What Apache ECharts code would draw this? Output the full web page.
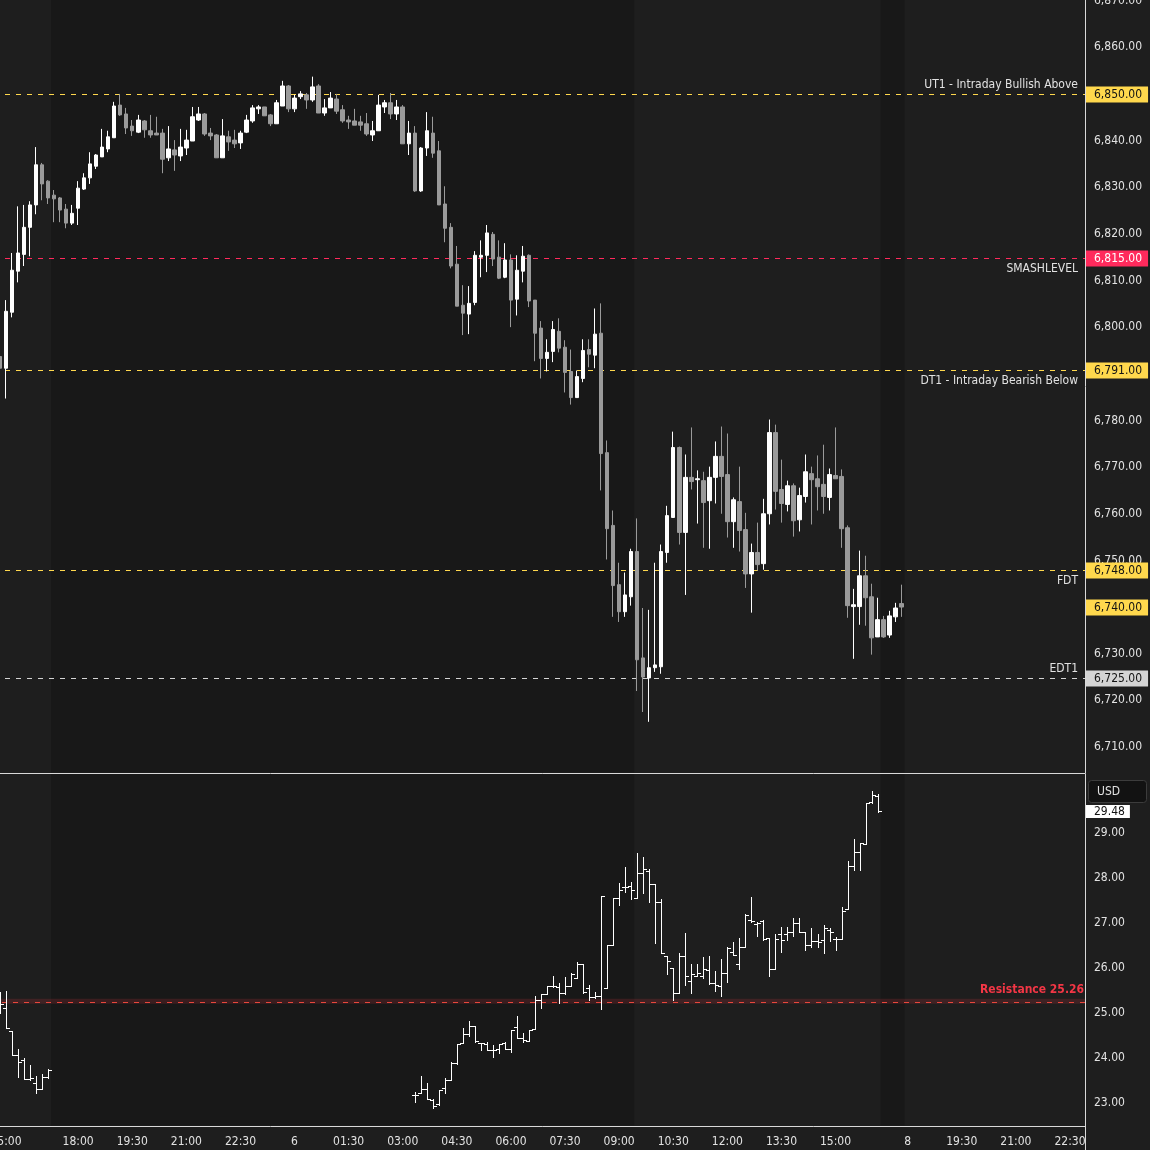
<!DOCTYPE html>
<html>
<head>
<meta charset="utf-8">
<script src="https://cdn.jsdelivr.net/npm/echarts@6/dist/echarts.min.js"></script>
<style>
html,body{margin:0;padding:0;background:#1e1e1e;}
#c{width:1150px;height:1150px;}
</style>
</head>
<body>
<div id="c"></div>
<script>
// ---------- DATA ----------
// 10-minute bar slots (session ranges, day + time)
const slotRanges = [
  [5, '14:50', '16:50'],
  [5, '18:00', '23:50'],
  [6, '00:00', '16:50'],
  [7, '18:00', '22:50']
];
// x-axis tick labels (slot index -> text)
const tickSlots = [1, 13, 22, 31, 40, 49, 58, 67, 76, 85, 94, 103, 112, 121, 130, 139, 151, 160, 169, 178];
const tickTexts = ['15:00','18:00','19:30','21:00','22:30','6','01:30','03:00','04:30','06:00','07:30','09:00','10:30','12:00','13:30','15:00','8','19:30','21:00','22:30'];

// extended-hours shading (slot ranges)
const extHoursRanges = [[9, 105], [147, 150]];

// price candles (slots 0..150)
const candleOpen = [
6793.7,6791.2,6803.2,6812.0,6815.6,6821.4,6826.2,6834.8,6831.3,6828.3,6827.7,6825.3,6822.3,6825.5,6829.6,6832.0,6834.5,6836.5,6838.2,6840.6,
6847.6,6845.7,6843.1,6841.8,6844.2,6842.1,6841.6,6841.6,6836.3,6838.0,6836.7,6838.4,6839.9,6844.4,6845.7,6841.6,6841.2,6836.3,6840.8,6840.1,
6839.5,6841.8,6844.2,6846.8,6847.2,6845.5,6843.6,6847.4,6851.7,6846.8,6849.4,6849.8,6848.7,6851.7,6845.9,6847.0,6848.9,6846.6,6844.4,6844.2,
6844.0,6843.6,6841.2,6842.1,6847.2,6848.1,6845.7,6847.2,6839.3,6841.6,6829.2,6838.4,6841.6,6837.8,6826.4,6821.4,6813.5,6804.7,6802.8,6805.3,
6815.0,6815.4,6819.9,6815.0,6810.7,6814.4,6806.0,6812.0,6815.4,6805.8,6799.8,6793.3,6794.8,6799.1,6795.7,6790.5,6784.9,6789.0,6795.2,6794.0,
6798.7,6773.1,6757.5,6744.8,6739.0,6742.2,6751.9,6729.1,6724.8,6727.0,6727.2,6751.7,6759.2,6774.2,6756.0,6767.8,6767.3,6767.1,6762.8,6767.8,
6772.3,6768.4,6758.3,6762.6,6756.6,6747.1,6751.7,6749.3,6760.0,6777.4,6765.2,6762.0,6766.0,6758.7,6763.7,6768.6,6767.5,6766.3,6763.5,6768.2,
6768.0,6757.0,6740.1,6740.1,6746.7,6742.2,6733.6,6737.3,6734.0,6737.9,6740.75];
const candleHigh = [
6798.2,6805.8,6815.9,6825.9,6826.2,6827.0,6838.6,6835.2,6831.5,6829.4,6827.9,6826.4,6826.2,6831.3,6833.0,6837.5,6837.1,6842.5,6842.1,6848.3,
6850.0,6847.0,6844.4,6845.5,6844.4,6845.5,6845.1,6842.5,6843.1,6840.1,6842.5,6842.3,6847.2,6847.2,6845.9,6842.7,6841.4,6844.6,6842.1,6842.3,
6842.1,6845.5,6847.6,6847.6,6847.2,6845.7,6848.7,6852.8,6851.9,6849.8,6850.6,6850.2,6853.7,6852.1,6848.9,6850.4,6850.0,6847.6,6845.3,6846.8,
6845.3,6845.9,6844.2,6849.8,6848.7,6850.2,6848.7,6847.6,6844.2,6843.1,6838.6,6846.1,6845.1,6839.9,6830.2,6822.3,6817.4,6809.0,6808.8,6816.3,
6818.6,6821.9,6820.4,6818.6,6818.0,6815.6,6815.4,6817.4,6815.6,6805.8,6801.3,6797.4,6801.3,6801.9,6797.2,6795.2,6790.7,6797.4,6797.4,6804.0,
6805.1,6775.7,6760.7,6749.5,6747.4,6752.5,6759.0,6739.8,6739.4,6749.5,6753.4,6761.7,6777.6,6774.4,6772.7,6778.5,6769.3,6769.0,6770.1,6775.5,
6778.7,6777.2,6763.5,6770.1,6760.2,6753.6,6758.1,6763.2,6780.2,6779.1,6771.6,6767.1,6766.5,6765.6,6772.7,6770.1,6772.5,6774.8,6769.7,6778.5,
6769.5,6757.5,6743.9,6752.1,6751.0,6745.0,6742.0,6738.1,6739.2,6740.9,6744.8];
const candleLow = [
6785.2,6784.7,6802.1,6809.6,6813.1,6815.2,6824.2,6827.2,6826.4,6822.5,6822.5,6821.2,6821.9,6821.9,6829.4,6830.7,6833.9,6836.5,6837.5,6840.6,
6845.3,6841.4,6841.0,6841.6,6840.6,6840.6,6841.2,6833.0,6835.6,6833.5,6835.6,6836.9,6839.9,6844.2,6841.0,6840.1,6836.3,6836.3,6837.8,6838.4,
6838.2,6841.6,6843.8,6845.7,6845.3,6843.1,6843.6,6847.4,6846.1,6846.1,6848.9,6846.8,6848.3,6845.9,6845.3,6847.0,6845.7,6843.8,6842.5,6843.3,
6842.1,6841.0,6839.9,6842.1,6845.9,6844.6,6844.4,6839.3,6836.9,6829.0,6829.0,6836.7,6836.3,6826.2,6818.2,6812.6,6804.5,6798.3,6798.5,6804.7,
6810.7,6811.8,6813.1,6810.3,6810.5,6800.0,6802.5,6809.6,6804.3,6792.7,6789.0,6790.5,6792.5,6794.6,6786.0,6783.4,6784.9,6788.2,6791.4,6791.2,
6765.0,6750.2,6737.9,6736.8,6737.9,6740.3,6722.0,6717.5,6715.4,6726.1,6725.7,6749.5,6759.2,6753.4,6742.6,6765.2,6757.9,6752.7,6752.5,6762.2,
6760.0,6754.9,6752.7,6751.9,6744.1,6738.8,6747.8,6748.0,6757.7,6760.9,6758.1,6760.5,6755.1,6756.2,6762.4,6757.7,6760.7,6760.0,6760.7,6767.5,
6752.7,6737.7,6728.9,6736.2,6736.0,6729.8,6733.6,6733.4,6733.4,6736.8,6737.9];
const candleClose = [
6791.2,6803.4,6812.2,6815.9,6821.4,6826.2,6834.8,6830.7,6827.7,6827.5,6825.1,6822.3,6824.4,6829.8,6832.0,6835.0,6836.9,6838.6,6840.8,6847.4,
6845.5,6842.7,6842.1,6844.4,6842.3,6841.2,6841.2,6836.0,6838.2,6836.9,6838.6,6840.1,6845.1,6845.7,6841.4,6841.0,6836.3,6841.0,6839.7,6839.3,
6841.6,6844.4,6847.0,6847.2,6845.3,6843.6,6848.1,6851.7,6846.8,6849.1,6850.0,6848.7,6851.5,6845.9,6847.0,6849.1,6846.3,6844.2,6844.0,6843.3,
6843.3,6841.4,6842.1,6847.6,6848.1,6845.7,6847.2,6839.3,6841.6,6829.2,6838.4,6842.1,6837.3,6826.2,6821.2,6813.1,6804.5,6803.0,6805.1,6815.4,
6815.4,6820.2,6814.6,6810.5,6814.4,6805.8,6812.2,6815.2,6805.6,6798.7,6793.3,6794.6,6799.5,6795.5,6790.3,6784.9,6789.4,6795.0,6794.2,6798.5,
6772.9,6756.8,6744.6,6739.0,6742.6,6751.9,6728.7,6725.0,6727.0,6727.6,6751.9,6759.6,6774.2,6756.0,6767.8,6766.9,6767.5,6762.4,6767.8,6772.3,
6768.0,6758.3,6763.0,6756.4,6747.1,6751.7,6749.1,6760.0,6777.4,6764.8,6762.2,6766.0,6758.5,6763.9,6769.0,6767.3,6765.8,6763.7,6768.4,6767.5,
6756.8,6740.3,6740.5,6746.7,6742.0,6733.4,6737.3,6733.6,6738.1,6739.8,6740.0];

// volatility index OHLC bars, two segments
const vixSegmentStarts = [0, 69];
const vixOpen = [
 [25.3,25.11,24.6,24.07,23.96,23.53,23.44,23.31,23.58],
 [23.18,23.23,23.32,23.07,22.97,23.34,23.51,23.88,24.34,24.54,24.72,24.34,24.32,24.18,24.2,24.33,24.2,24.69,24.45,24.38,
  24.65,25.3,25.43,25.61,25.58,25.45,25.61,25.77,26.1,25.56,25.36,25.37,25.56,26.51,27.55,27.8,27.83,27.55,28.1,28.16,
  27.86,27.47,26.27,25.99,25.44,26.27,25.71,25.82,25.82,25.96,25.66,25.6,25.88,26.36,26.1,26.47,27.06,26.97,27.05,26.67,
  25.97,26.75,26.75,26.8,27.0,26.8,26.51,26.6,26.62,26.84,26.64,26.64,27.32,28.27,28.58,28.75,29.69,29.82]
];
const vixHigh = [
 [25.47,25.49,24.6,24.2,24.0,23.84,23.6,23.64,23.76],
 [23.25,23.6,23.44,23.1,23.3,23.55,23.92,24.32,24.66,24.83,24.72,24.34,24.36,24.3,24.32,24.36,24.63,24.93,24.56,24.63,
  25.38,25.43,25.61,25.82,25.67,25.8,25.88,26.14,26.1,25.62,25.47,27.6,26.51,27.55,27.88,28.24,27.9,28.55,28.47,28.19,
  27.86,27.53,26.27,25.99,26.33,26.77,26.09,26.09,26.24,26.27,25.94,26.21,26.47,26.58,26.66,27.21,27.58,27.02,27.07,26.67,
  26.75,26.91,26.91,27.1,27.1,26.8,26.88,26.75,26.95,26.88,26.69,27.36,28.38,28.86,28.77,29.67,29.93,29.86]
];
const vixLow = [
 [25.0,24.67,24.07,23.58,23.53,23.51,23.22,23.31,23.56],
 [23.03,23.23,23.1,22.89,22.96,23.23,23.51,23.87,24.34,24.49,24.36,24.17,24.18,24.03,24.12,24.19,24.14,24.45,24.36,24.38,
  24.65,25.12,25.43,25.58,25.23,25.43,25.61,25.77,25.45,25.3,25.34,25.08,25.56,26.51,27.41,27.69,27.53,27.55,27.67,27.47,
  26.56,26.34,25.87,25.3,25.44,25.62,25.45,25.82,25.77,25.64,25.5,25.38,25.69,26.29,25.98,26.47,27.03,26.71,26.62,25.82,
  25.97,26.36,26.62,26.72,26.8,26.41,26.47,26.47,26.34,26.6,26.39,26.64,27.32,28.18,28.17,28.75,29.67,29.47]
];
const vixClose = [
 [25.2,24.67,24.07,23.91,23.53,23.56,23.31,23.58,23.73],
 [23.18,23.32,23.1,22.93,23.3,23.51,23.88,24.32,24.54,24.72,24.38,24.33,24.18,24.17,24.32,24.2,24.63,24.45,24.39,24.63,
  25.3,25.43,25.61,25.6,25.45,25.61,25.87,26.1,25.47,25.36,25.37,27.6,26.51,27.55,27.74,27.81,27.73,28.1,28.2,27.86,
  27.47,26.34,26.16,25.44,26.27,25.82,25.87,25.89,25.97,25.66,25.62,25.88,26.45,26.29,26.47,27.18,27.04,26.99,26.65,25.97,
  26.65,26.62,26.8,27.0,26.8,26.5,26.6,26.58,26.88,26.8,26.64,27.27,28.27,28.58,28.77,29.66,29.84,29.48]
];

// price levels
const levelValues = [6850, 6815, 6791, 6748, 6725];
const levelNames  = ['UT1 - Intraday Bullish Above', 'SMASHLEVEL', 'DT1 - Intraday Bearish Below', 'FDT', 'EDT1'];
const levelNameAbove = [true, false, false, false, true];
const lastPrice = 6740;
const lastVix = 29.48;
const resistanceValue = 25.26;
const resistanceText = 'Resistance 25.26';
const priceTicks = [6710,6720,6730,6740,6750,6760,6770,6780,6790,6800,6810,6820,6830,6840,6850,6860,6870];
const vixTicks = [23,24,25,26,27,28,29];

// ---------- STYLE ----------
const FONT = '"DejaVu Sans Condensed","Liberation Sans",Arial,sans-serif';
const YEL = '#ffd84d', RED = '#ff2a5c', GRY = '#d4d4d4';
const levelColors = [YEL, RED, YEL, YEL, GRY];
const levelTagText = ['#131313', '#ffffff', '#131313', '#131313', '#131313'];
const AXIS = '#d9d9d9';
const TXT = '#e2e2e2';
const DASH_ON = 5, DASH_OFF = 6;

// ---------- BUILD ----------
function buildSlots() {
  const out = [];
  slotRanges.forEach(([d, a, b]) => {
    const t0 = +a.slice(0,2)*60 + +a.slice(3), t1 = +b.slice(0,2)*60 + +b.slice(3);
    for (let t = t0; t <= t1; t += 10) {
      out.push(d + ' ' + String(Math.floor(t/60)).padStart(2,'0') + ':' + String(t%60).padStart(2,'0'));
    }
  });
  return out;
}
const slots = buildSlots();
const fmtPrice = v => v.toLocaleString('en-US', {minimumFractionDigits: 2, maximumFractionDigits: 2});
// snap a level line to the pixel row just below its exact position
const snapRow = y => Math.floor(y) + 1;

const candleData = candleOpen.map((o, i) => [o, candleClose[i], candleLow[i], candleHigh[i]]);
const vixData = [];
vixSegmentStarts.forEach((s, si) => {
  vixOpen[si].forEach((o, j) => {
    vixData.push([s + j, o, vixHigh[si][j], vixLow[si][j], vixClose[si][j]]);
  });
});

// dashed horizontal line drawn as small filled rects (one per dash)
function dashRects(x0, x1, row, color) {
  const kids = [];
  for (let x = x0; x < x1; x += DASH_ON + DASH_OFF) {
    kids.push({type: 'rect', shape: {x: x, y: row, width: Math.min(DASH_ON, x1 - x), height: 1}, style: {fill: color}});
  }
  return kids;
}
function shadeRender(params, api) {
  const cs = params.coordSys;
  const a = api.coord([api.value(0), api.value(2)])[0];
  const b = api.coord([api.value(1), api.value(2)])[0];
  const w = api.size([1, 0])[0];
  return {type: 'rect', shape: {x: a - w/2, y: cs.y, width: b - a + w, height: cs.height - 0.5},
          style: {fill: '#181818'}};
}
function ohlcRender(params, api) {
  const s = api.value(0);
  const o = api.coord([s, api.value(1)]), h = api.coord([s, api.value(2)]),
        l = api.coord([s, api.value(3)]), c = api.coord([s, api.value(4)]);
  const x = Math.round(o[0]);
  const oy = Math.round(o[1]), cy = Math.round(c[1]);
  const hy = Math.round(h[1]), ly = Math.round(l[1]);
  return {type: 'group', children: [
    {type: 'rect', shape: {x: x, y: hy, width: 1, height: Math.max(1, ly - hy + 1)}, style: {fill: '#ffffff'}},
    {type: 'rect', shape: {x: x - 3, y: oy, width: 3, height: 1}, style: {fill: '#ffffff'}},
    {type: 'rect', shape: {x: x + 1, y: cy, width: 3, height: 1}, style: {fill: '#ffffff'}}
  ]};
}
function levelLineRender(params, api) {
  const cs = params.coordSys;
  const i = api.value(2);
  const row = snapRow(api.coord([0, api.value(1)])[1]);
  return {type: 'group', children: dashRects(cs.x + 8, cs.x + cs.width, row, levelColors[i])};
}
function tagEl(cs, y, text, bg, fg) {
  return {type: 'text', style: {text: text, x: cs.x + cs.width + 1, y: y, fill: fg, backgroundColor: bg,
          padding: [2, 6, 2, 8], font: '12px ' + FONT, align: 'left', verticalAlign: 'middle'}};
}
function levelTextRender(params, api) {
  const cs = params.coordSys;
  const i = api.value(2);
  const row = snapRow(api.coord([0, api.value(1)])[1]);
  const y = row + 0.5;
  const above = levelNameAbove[i];
  return {type: 'group', children: [
    tagEl(cs, y, fmtPrice(api.value(1)), levelColors[i], levelTagText[i]),
    {type: 'text', style: {text: levelNames[i], x: cs.x + cs.width - 7, y: above ? row - 3 : row + 5,
     fill: TXT, font: '12px ' + FONT, align: 'right', verticalAlign: above ? 'bottom' : 'top'}}
  ]};
}
function lastPriceRender(params, api) {
  const cs = params.coordSys;
  const y = snapRow(api.coord([0, api.value(1)])[1]) - 0.5;
  return tagEl(cs, y, fmtPrice(api.value(1)), YEL, '#131313');
}
function resistanceRender(params, api) {
  const cs = params.coordSys;
  const v = api.value(1);
  const row = snapRow(api.coord([0, v])[1]);
  const yTop = api.coord([0, v + 0.055])[1], yBot = api.coord([0, v - 0.055])[1];
  return {type: 'group', children: [
    {type: 'rect', shape: {x: cs.x, y: yTop, width: cs.width, height: yBot - yTop}, style: {fill: 'rgba(242,54,69,0.16)'}}
  ].concat(dashRects(cs.x + 5, cs.x + cs.width, row, '#e8473c'))};
}
function resistanceTextRender(params, api) {
  const cs = params.coordSys;
  const y = Math.round(api.coord([0, api.value(1)])[1]);
  return {type: 'text', style: {text: resistanceText, x: cs.x + cs.width - 1, y: y - 5, fill: '#f23645',
          font: 'bold 12px ' + FONT, align: 'right', verticalAlign: 'bottom'}};
}
function lastVixRender(params, api) {
  const cs = params.coordSys;
  const y = Math.round(api.coord([0, api.value(1)])[1]) + 0.5;
  return {type: 'text', style: {text: api.value(1).toFixed(2), x: cs.x + cs.width + 1, y: y, fill: '#111111',
          backgroundColor: '#ffffff', padding: [1, 5, 0, 8], font: '12px ' + FONT, align: 'left', verticalAlign: 'middle'}};
}

const shadeData = extHoursRanges.map(r => [r[0], r[1], 0]);
const levelData = levelValues.map((v, i) => [0, v, i]);
const noBounds = {outerBoundsMode: 'none', containLabel: false};
const customBase = {type: 'custom', silent: true, clip: false};

const chart = echarts.init(document.getElementById('c'), null, {renderer: 'canvas'});
const option = {
  animation: false,
  backgroundColor: '#1e1e1e',
  textStyle: {fontFamily: FONT},
  grid: [
    Object.assign({left: -3, right: 65, top: 0, height: 773}, noBounds),
    Object.assign({left: -3, right: 65, top: 774, height: 352}, noBounds)
  ],
  xAxis: [
    {type: 'category', gridIndex: 0, data: slots, boundaryGap: true,
     axisLine: {show: true, lineStyle: {color: AXIS, width: 1}}, axisTick: {show: false},
     axisLabel: {show: false}, splitLine: {show: false}},
    {type: 'category', gridIndex: 1, data: slots, boundaryGap: true,
     axisLine: {show: true, lineStyle: {color: AXIS, width: 1}}, axisTick: {show: false},
     axisLabel: {show: true, interval: (i) => tickSlots.indexOf(i) >= 0,
                 formatter: (v, i) => { const k = tickSlots.indexOf(i); return k >= 0 ? tickTexts[k] : ''; },
                 color: TXT, fontSize: 12, margin: 10, fontFamily: FONT, hideOverlap: false},
     splitLine: {show: false}}
  ],
  yAxis: [
    {type: 'value', gridIndex: 0, position: 'right', min: 6704.427, max: 6870.129,
     splitLine: {show: false}, axisTick: {show: false},
     axisLine: {show: true, lineStyle: {color: AXIS, width: 1}},
     axisLabel: {customValues: priceTicks, formatter: v => fmtPrice(v), color: TXT, fontSize: 12, margin: 9, fontFamily: FONT}},
    {type: 'value', gridIndex: 1, position: 'right', min: 22.489, max: 30.311,
     splitLine: {show: false}, axisTick: {show: false},
     axisLine: {show: true, lineStyle: {color: AXIS, width: 1}},
     axisLabel: {customValues: vixTicks, formatter: v => v.toFixed(2), color: TXT, fontSize: 12, margin: 9, fontFamily: FONT}}
  ],
  series: [
    Object.assign({}, customBase, {xAxisIndex: 0, yAxisIndex: 0, z: 0,
      data: shadeData.map(d => [d[0], d[1], 6780]), encode: {x: [0, 1], y: 2}, renderItem: shadeRender}),
    Object.assign({}, customBase, {xAxisIndex: 1, yAxisIndex: 1, z: 0,
      data: shadeData.map(d => [d[0], d[1], 26]), encode: {x: [0, 1], y: 2}, renderItem: shadeRender}),
    Object.assign({}, customBase, {xAxisIndex: 1, yAxisIndex: 1, z: 1,
      data: [[0, resistanceValue]], encode: {x: 0, y: 1}, renderItem: resistanceRender}),
    Object.assign({}, customBase, {xAxisIndex: 0, yAxisIndex: 0, z: 2,
      data: levelData, encode: {x: 0, y: 1}, renderItem: levelLineRender}),
    {type: 'candlestick', xAxisIndex: 0, yAxisIndex: 0, z: 3, barWidth: 4, data: candleData,
     itemStyle: {color: '#ffffff', color0: '#9a9a9a', borderColor: '#ffffff', borderColor0: '#9a9a9a', borderWidth: 1}},
    Object.assign({}, customBase, {xAxisIndex: 0, yAxisIndex: 0, z: 5,
      data: levelData, encode: {x: 0, y: 1}, renderItem: levelTextRender}),
    Object.assign({}, customBase, {xAxisIndex: 0, yAxisIndex: 0, z: 6,
      data: [[0, lastPrice]], encode: {x: 0, y: 1}, renderItem: lastPriceRender}),
    Object.assign({}, customBase, {xAxisIndex: 1, yAxisIndex: 1, z: 3, clip: true,
      data: vixData, encode: {x: 0, y: [1, 2, 3, 4]}, renderItem: ohlcRender}),
    Object.assign({}, customBase, {xAxisIndex: 1, yAxisIndex: 1, z: 5,
      data: [[0, resistanceValue]], encode: {x: 0, y: 1}, renderItem: resistanceTextRender}),
    Object.assign({}, customBase, {xAxisIndex: 1, yAxisIndex: 1, z: 6,
      data: [[0, lastVix]], encode: {x: 0, y: 1}, renderItem: lastVixRender})
  ],
  graphic: [
    {type: 'rect', shape: {x: 1085, y: 1126, width: 1, height: 24}, style: {fill: AXIS}},
    {type: 'rect', z: 100, shape: {x: 1088.5, y: 780.5, width: 58, height: 22, r: 3},
     style: {fill: '#121212', stroke: '#3c3c3c', lineWidth: 1}},
    {type: 'text', z: 101, x: 1097, y: 792, style: {text: 'USD', fill: TXT, font: '12px ' + FONT, verticalAlign: 'middle'}}
  ]
};
chart.setOption(option);
</script>
</body>
</html>
